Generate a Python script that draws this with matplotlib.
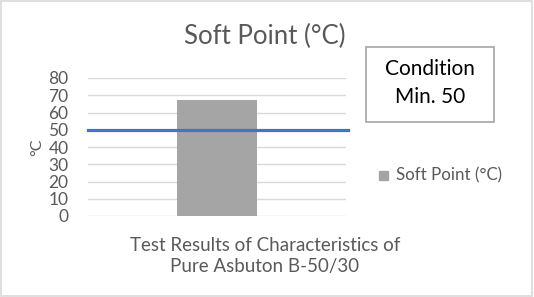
import matplotlib.pyplot as plt
from matplotlib.patches import Rectangle

# data
categories = ["Test Results of Characteristics of\nPure Asbuton B-50/30"]
soft_point = [67]
min_value = 50
yticks = [0, 10, 20, 30, 40, 50, 60, 70, 80]

plt.rcParams['font.family'] = ['Lato', 'DejaVu Sans']
txt = '#595959'

fig = plt.figure(figsize=(5.34, 2.97), dpi=100)
ax = fig.add_axes([88 / 534, 1 - 216 / 297, (346 - 88) / 534, (216 - 78) / 297])

ax.bar([0], soft_point, width=0.94, color='#a5a5a5', label='Soft Point (°C)', zorder=2)
ax.plot([-1.5, 1.52], [min_value, min_value], color='#4472c4', lw=2.3, zorder=3, clip_on=False)

ax.set_xlim(-1.5, 1.5)
ax.set_ylim(0, 80)
ax.set_yticks(yticks)
ax.set_xticks([])
ax.grid(axis='y', color='#d9d9d9', lw=1, zorder=0)
for s in ax.spines.values():
    s.set_visible(False)
ax.tick_params(axis='y', length=0, labelsize=12.5, labelcolor=txt, pad=14)

fig.text(37 / 534, 1 - 147 / 297, '°C', rotation=90, ha='center', va='center',
         fontsize=11.5, color=txt)
fig.text(265 / 534, 1 - 36 / 297, 'Soft Point (°C)', ha='center', va='center',
         fontsize=18.5, color=txt)
fig.text(265 / 534, 1 - 256 / 297, categories[0], ha='center', va='center',
         fontsize=13.5, color=txt, linespacing=1.35)

# condition box
fig.patches.append(Rectangle((366 / 534, 1 - 122 / 297), 128 / 534, 75 / 297,
                             transform=fig.transFigure, fill=False,
                             edgecolor='#a6a6a6', lw=1.2))
fig.text(430 / 534, 1 - 83 / 297, 'Condition\nMin. 50', ha='center', va='center',
         fontsize=15, color='black', linespacing=1.5)

# legend
fig.patches.append(Rectangle((379 / 534, 1 - 180 / 297), 9 / 534, 9 / 297,
                             transform=fig.transFigure, color='#a5a5a5'))
fig.text(396 / 534, 1 - 175 / 297, 'Soft Point (°C)', ha='left', va='center',
         fontsize=12.2, color=txt)

# outer border
fig.patches.append(Rectangle((0.002, 0.003), 0.995, 0.993, transform=fig.transFigure,
                             fill=False, edgecolor='#d9d9d9', lw=1.2))

fig.savefig('out.png', dpi=100)
